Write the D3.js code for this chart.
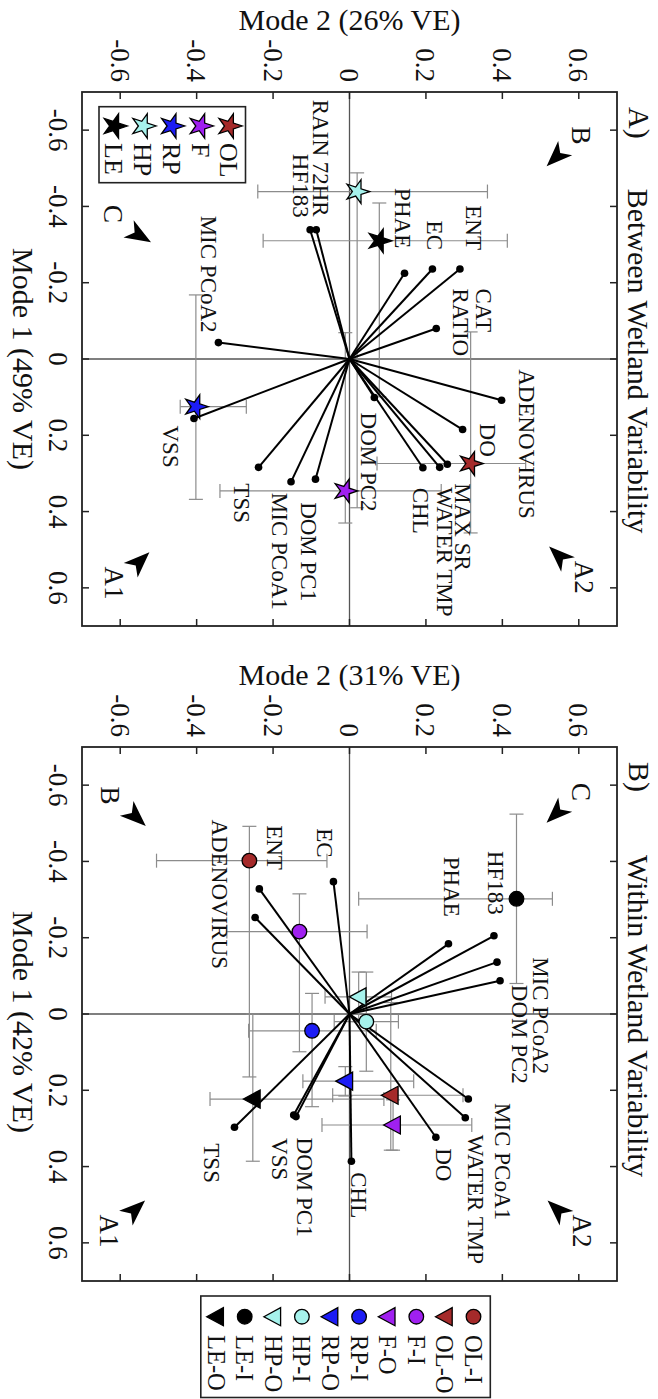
<!DOCTYPE html>
<html>
<head>
<meta charset="utf-8">
<script src="https://cdn.jsdelivr.net/npm/d3@7"></script>
<style>
  body { margin: 0; background: #fff; }
  svg { display: block; }
  text { font-family: "Liberation Serif", "Times New Roman", serif; fill: #111; }
</style>
</head>
<body>
<svg id="chart" width="658" height="1399"></svg>
<script>
// ---- data ----
const ticks = [-0.6, -0.4, -0.2, 0, 0.2, 0.4, 0.6];

// panel A: between wetland variability
const varsA = ["RAIN 72HR", "HF183", "PHAE", "EC", "ENT", "CAT\nRATIO", "MIC PCoA2", "ADENOVIRUS", "DO",
  "MAX SR", "WATER TMP", "CHL", "DOM PC2", "VSS", "TSS", "MIC PCoA1", "DOM PC1"];
const mode1A = [-0.339, -0.339, -0.225, -0.236, -0.236, -0.080, -0.043, 0.108, 0.185,
  0.276, 0.284, 0.285, 0.101, 0.156, 0.284, 0.322, 0.315];
const mode2A = [-0.087, -0.103, 0.144, 0.217, 0.289, 0.227, -0.343, 0.398, 0.296,
  0.256, 0.236, 0.192, 0.065, -0.407, -0.238, -0.153, -0.089];

const groupsA = ["OL", "F", "RP", "HP", "LE"];
const gMode1A = [0.274, 0.346, 0.125, -0.439, -0.310];
const gMode2A = [0.317, -0.011, -0.402, 0.020, 0.078];
const gMode1LoA = [-0.071, -0.069, -0.168, -0.488, -0.409];
const gMode1HiA = [0.456, 0.430, 0.368, 0.390, 0.099];
const gMode2LoA = [0.072, -0.339, -0.443, -0.240, -0.226];
const gMode2HiA = [0.461, 0.240, -0.270, 0.361, 0.413];

const dirsA = ["B", "C", "A1", "A2"];
const dirMode1A = [-0.531, -0.325, 0.532, 0.517];
const dirMode2A = [0.542, -0.551, -0.550, 0.549];

// panel B: within wetland variability
const varsB = ["EC", "ENT", "ADENOVIRUS", "PHAE", "HF183", "MIC PCoA2", "DOM PC2", "MIC PCoA1",
  "WATER TMP", "DO", "CHL", "DOM PC1", "VSS", "TSS"];
const mode1B = [-0.347, -0.328, -0.253, -0.184, -0.205, -0.136, -0.087, 0.223,
  0.272, 0.323, 0.386, 0.269, 0.265, 0.297];
const mode2B = [-0.042, -0.236, -0.247, 0.259, 0.378, 0.386, 0.394, 0.311,
  0.303, 0.226, 0.005, -0.140, -0.146, -0.301];

const groupsB = ["OL-I", "OL-O", "F-I", "F-O", "RP-I", "RP-O", "HP-I", "HP-O", "LE-I", "LE-O"];
const gMode1B = [-0.402, 0.213, -0.216, 0.291, 0.044, 0.176, 0.020, -0.045, -0.302, 0.223];
const gMode2B = [-0.262, 0.108, -0.131, 0.114, -0.098, -0.011, 0.044, 0.024, 0.437, -0.253];
const gMode1LoB = [-0.492, -0.030, -0.315, 0.225, -0.054, 0.138, -0.110, -0.110, -0.524, 0.000];
const gMode1HiB = [0.165, 0.357, 0.099, 0.357, 0.243, 0.215, 0.150, 0.020, -0.080, 0.386];
const gMode2LoB = [-0.505, -0.044, -0.321, -0.072, -0.264, -0.122, -0.040, -0.064, 0.024, -0.365];
const gMode2HiB = [-0.059, 0.297, 0.046, 0.320, 0.070, 0.168, 0.128, 0.110, 0.531, 0.090];

const dirsB = ["C", "B", "A1", "A2"];
const dirMode1B = [-0.527, -0.518, 0.514, 0.514];
const dirMode2B = [0.542, -0.560, -0.562, 0.545];

// ---- layout ----
const colors = { OL: "#a52a2a", F: "#a020f0", RP: "#1c1cf5", HP: "#a6f2ec", LE: "#000" };

// label offsets from loading end point: [dx, dy, anchor along reading direction]
const labelPosA = {
  "RAIN 72HR": [5, -13, "end"], "HF183": [-9, -12, "end"], "PHAE": [-1, -25, "end"],
  "EC": [3, -19, "end"], "ENT": [14, -19, "end"], "CAT\nRATIO": [48, -40, "start"],
  "MIC PCoA2": [-9, -10, "end"], "ADENOVIRUS": [25, -31, "start"], "DO": [25, -6, "start"],
  "MAX SR": [16, 19, "start"], "WATER TMP": [5, 20, "start"], "CHL": [-2, 20, "start"],
  "DOM PC2": [-5, 15, "start"], "VSS": [-23, 7, "start"], "TSS": [-16, 16, "start"],
  "MIC PCoA1": [-11, 11, "start"], "DOM PC1": [-6, 23, "start"]
};
const labelPosB = {
  "EC": [-8, -24, "end"], "ENT": [16, -19, "end"], "ADENOVIRUS": [-35, -98, "start"],
  "PHAE": [4, -27, "end"], "HF183": [2, -21, "end"], "MIC PCoA2": [44, -5, "start"],
  "DOM PC2": [20, 4, "start"], "MIC PCoA1": [35, 4, "start"], "WATER TMP": [11, 17, "start"],
  "DO": [8, 11, "start"], "CHL": [8, 11, "start"], "DOM PC1": [9, 21, "start"],
  "VSS": [-14, 23, "start"], "TSS": [-22, 16, "start"]
};

const svg = d3.select("#chart");
svg.append("rect").attr("width", 658).attr("height", 1399).attr("fill", "#fff");

const x = d3.scaleLinear().domain([-0.7, 0.7]).range([82, 617]);
const fmt = t => String(+t.toFixed(1));

function rotText(g, px, py, str, size, anchor) {
  return g.append("text")
    .attr("transform", `translate(${px},${py}) rotate(90)`)
    .attr("text-anchor", anchor)
    .attr("dy", "0.35em")
    .style("font-size", size + "px")
    .text(str);
}

const starPath = d3.symbol(d3.symbolStar, 175)();
const starLegPath = d3.symbol(d3.symbolStar, 185)();
const triPath = "M-9.4,0L7.3,-9L7.3,9Z";
const arrowPath = "M14,0L-12,-10L-5,0L-12,10Z";

function marker(g, type, color, px, py) {
  if (type === "star") {
    g.append("path").attr("d", starPath)
      .attr("transform", `translate(${px},${py}) rotate(90)`)
      .attr("fill", color).attr("stroke", "#000").attr("stroke-width", 1.3);
  } else if (type === "circle") {
    g.append("circle").attr("cx", px).attr("cy", py).attr("r", 7.3)
      .attr("fill", color).attr("stroke", "#000").attr("stroke-width", 1.3);
  } else {
    g.append("path").attr("d", triPath)
      .attr("transform", `translate(${px},${py})`)
      .attr("fill", color).attr("stroke", "#000").attr("stroke-width", 1.3);
  }
}

function drawPanel(p) {
  const g = svg.append("g");
  const y = d3.scaleLinear().domain([-0.7, 0.7]).range([p.top, p.top + 534]);
  const [x0, x1] = x.range(), [y0, y1] = y.range();

  // zero lines
  g.append("line").attr("x1", x(0)).attr("x2", x(0)).attr("y1", y0).attr("y2", y1)
    .attr("stroke", "#555").attr("stroke-width", 1.3);
  g.append("line").attr("x1", x0).attr("x2", x1).attr("y1", y(0)).attr("y2", y(0))
    .attr("stroke", "#555").attr("stroke-width", 1.3);

  // error bars
  const eb = g.append("g").attr("stroke", "#8c8c8c").attr("stroke-width", 1.2).attr("fill", "none");
  p.groups.forEach((gr, i) => {
    const cx = x(p.gm2[i]), cy = y(p.gm1[i]);
    const xl = x(p.gm2lo[i]), xh = x(p.gm2hi[i]), yl = y(p.gm1lo[i]), yh = y(p.gm1hi[i]);
    eb.append("line").attr("x1", xl).attr("x2", xh).attr("y1", cy).attr("y2", cy);
    eb.append("line").attr("x1", xl).attr("x2", xl).attr("y1", cy - 7).attr("y2", cy + 7);
    eb.append("line").attr("x1", xh).attr("x2", xh).attr("y1", cy - 7).attr("y2", cy + 7);
    eb.append("line").attr("x1", cx).attr("x2", cx).attr("y1", yl).attr("y2", yh);
    eb.append("line").attr("x1", cx - 7).attr("x2", cx + 7).attr("y1", yl).attr("y2", yl);
    eb.append("line").attr("x1", cx - 7).attr("x2", cx + 7).attr("y1", yh).attr("y2", yh);
  });

  // loadings
  p.vars.forEach((v, i) => {
    const ex = x(p.m2[i]), ey = y(p.m1[i]);
    g.append("line").attr("x1", x(0)).attr("y1", y(0)).attr("x2", ex).attr("y2", ey)
      .attr("stroke", "#000").attr("stroke-width", 2);
    g.append("circle").attr("cx", ex).attr("cy", ey).attr("r", 3.8).attr("fill", "#000");
    const [dx, dy, anc] = p.labelPos[v];
    v.split("\n").forEach((line, k) => {
      rotText(g, ex + dx - k * 23, ey + dy, line, 23, anc);
    });
  });

  // group means
  p.groups.forEach((gr, i) => {
    marker(g, p.type(gr), colors[gr.split("-")[0]], x(p.gm2[i]), y(p.gm1[i]));
  });

  // direction arrows
  p.dirs.forEach((d, i) => {
    const ax = x(p.dm2[i]), ay = y(p.dm1[i]);
    const ang = Math.atan2(y(0) - ay, x(0) - ax) * 180 / Math.PI;
    g.append("path").attr("d", arrowPath)
      .attr("transform", `translate(${ax},${ay}) rotate(${ang})`).attr("fill", "#000");
    rotText(g, ax + Math.sign(p.dm2[i]) * 25, ay + Math.sign(p.dm1[i]) * 21, d, 27, "middle");
  });

  // frame + inward ticks
  g.append("rect").attr("x", x0).attr("y", y0).attr("width", x1 - x0).attr("height", y1 - y0)
    .attr("fill", "none").attr("stroke", "#222").attr("stroke-width", 1.8);
  const tk = g.append("g").attr("stroke", "#222").attr("stroke-width", 1.5);
  ticks.forEach(t => {
    tk.append("line").attr("x1", x(t)).attr("x2", x(t)).attr("y1", y0).attr("y2", y0 + 7);
    tk.append("line").attr("x1", x(t)).attr("x2", x(t)).attr("y1", y1).attr("y2", y1 - 7);
    tk.append("line").attr("y1", y(t)).attr("y2", y(t)).attr("x1", x0).attr("x2", x0 + 7);
    tk.append("line").attr("y1", y(t)).attr("y2", y(t)).attr("x1", x1).attr("x2", x1 - 7);
    rotText(g, x(t), y0 - 10, fmt(t), 27, "end");
    rotText(g, 58, y(t), fmt(t), 27, "middle");
  });

  // axis titles
  g.append("text").attr("x", x(0)).attr("y", p.top - 62).attr("text-anchor", "middle")
    .style("font-size", "30px").text(p.xTitle);
  g.append("text").attr("transform", `translate(13,${y(0) + p.yTitleShift}) rotate(90)`)
    .attr("text-anchor", "middle").style("font-size", "30px").text(p.yTitle);

  // panel title
  g.append("text").attr("transform", `translate(629,${y0 + 15}) rotate(90)`)
    .attr("text-anchor", "start").style("font-size", "30px").text(p.tag);
  g.append("text").attr("transform", `translate(628,${y(0) + 2}) rotate(90)`)
    .attr("text-anchor", "middle").style("font-size", "30px").text(p.title);
  return g;
}

drawPanel({
  top: 92, vars: varsA, m1: mode1A, m2: mode2A, labelPos: labelPosA,
  groups: groupsA, gm1: gMode1A, gm2: gMode2A, gm1lo: gMode1LoA, gm1hi: gMode1HiA,
  gm2lo: gMode2LoA, gm2hi: gMode2HiA, type: () => "star",
  dirs: dirsA, dm1: dirMode1A, dm2: dirMode2A,
  xTitle: "Mode 2 (26% VE)", yTitle: "Mode 1 (49% VE)", yTitleShift: 0,
  tag: "A)", title: "Between Wetland Variability"
});

drawPanel({
  top: 747, vars: varsB, m1: mode1B, m2: mode2B, labelPos: labelPosB,
  groups: groupsB, gm1: gMode1B, gm2: gMode2B, gm1lo: gMode1LoB, gm1hi: gMode1HiB,
  gm2lo: gMode2LoB, gm2hi: gMode2HiB, type: gr => gr.endsWith("-I") ? "circle" : "tri",
  dirs: dirsB, dm1: dirMode1B, dm2: dirMode2B,
  xTitle: "Mode 2 (31% VE)", yTitle: "Mode 1 (42% VE)", yTitleShift: 8,
  tag: "B)", title: "Within Wetland Variability"
});

// legend A (stars)
const legA = svg.append("g");
legA.append("rect").attr("x", 99).attr("y", 106.7).attr("width", 146.5).attr("height", 76)
  .attr("fill", "#fff").attr("stroke", "#222").attr("stroke-width", 1.6);
groupsA.forEach((gr, i) => {
  const lx = 229.4 - i * 28.7;
  legA.append("path").attr("d", starLegPath).attr("transform", `translate(${lx},126) rotate(90)`)
    .attr("fill", colors[gr]).attr("stroke", "#000").attr("stroke-width", 1.3);
  rotText(legA, lx, 143, gr, 26, "start");
});

// legend B
const legB = svg.append("g");
legB.append("rect").attr("x", 200.8).attr("y", 1296).attr("width", 289.5).attr("height", 101.5)
  .attr("fill", "#fff").attr("stroke", "#222").attr("stroke-width", 1.6);
groupsB.forEach((gr, i) => {
  const lx = 473.5 - i * 28.6;
  marker(legB, gr.endsWith("-I") ? "circle" : "tri", colors[gr.split("-")[0]], lx, 1316.7);
  rotText(legB, lx, 1335, gr, 24.5, "start");
});
</script>
</body>
</html>
